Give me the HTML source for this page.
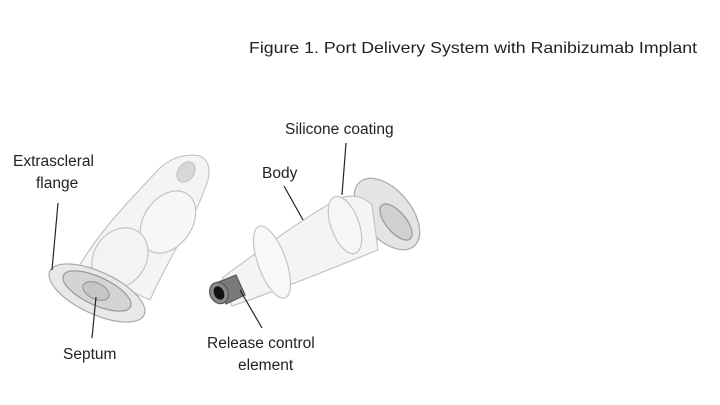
<!DOCTYPE html>
<html><head><style>
html,body{margin:0;padding:0;background:#fff;}
svg{display:block;font-family:"Liberation Sans",Arial,sans-serif;}
</style></head><body>
<svg width="720" height="405" viewBox="0 0 720 405" xmlns="http://www.w3.org/2000/svg">
<rect width="720" height="405" fill="#fff"/>
<text x="249" y="53" font-size="16" fill="#222" textLength="448" lengthAdjust="spacingAndGlyphs">Figure 1. Port Delivery System with Ranibizumab Implant</text>

<!-- Left device -->
<g stroke="#c4c4c4" stroke-width="1.2">
  <path d="M78,268 C100,230 130,200 160,168 Q178,152 200,156 Q212,162 208,180 C195,220 170,255 150,300 Z" fill="#f4f4f4"/>
  <ellipse cx="186" cy="172" rx="11" ry="8" transform="rotate(-55 186 172)" fill="#d8d8d8"/>
  <ellipse cx="168" cy="222" rx="24" ry="34" transform="rotate(35 168 222)" fill="#f7f7f7"/>
  <ellipse cx="120" cy="258" rx="26" ry="32" transform="rotate(35 120 258)" fill="#f3f3f3"/>
  <ellipse cx="97" cy="293" rx="52" ry="21" transform="rotate(25 97 293)" fill="#e8e8e8" stroke="#aaa"/>
  <ellipse cx="97" cy="291" rx="37" ry="14" transform="rotate(25 97 291)" fill="#d4d4d4" stroke="#999"/>
  <ellipse cx="96" cy="291" rx="14" ry="8" transform="rotate(25 96 291)" fill="#c6c6c6" stroke="#999"/>
</g>

<!-- Right device -->
<g stroke="#c4c4c4" stroke-width="1.2">
  <path d="M386,218 m0,0" />
  <ellipse cx="387" cy="214" rx="24" ry="42" transform="rotate(-40 387 214)" fill="#e4e4e4" stroke="#aaa"/>
  <path d="M222,278 C260,250 300,220 340,198 Q360,192 372,205 L378,250 C340,265 280,290 232,306 Z" fill="#f4f4f4"/>
  <ellipse cx="272" cy="262" rx="14" ry="38" transform="rotate(-20 272 262)" fill="#f8f8f8"/>
  <ellipse cx="345" cy="225" rx="14" ry="30" transform="rotate(-20 345 225)" fill="#f6f6f6"/>
  <ellipse cx="396" cy="222" rx="10" ry="22" transform="rotate(-40 396 222)" fill="#d0d0d0" stroke="#999"/>
  <path d="M216,283 L236,275 L245,295 L226,304 Z" fill="#7a7a7a" stroke="#555"/>
  <ellipse cx="219" cy="293" rx="9" ry="11" transform="rotate(-25 219 293)" fill="#888" stroke="#555"/>
  <ellipse cx="219" cy="293" rx="5" ry="7" transform="rotate(-25 219 293)" fill="#111" stroke="none"/>
</g>

<!-- Leader lines -->
<g stroke="#222" stroke-width="1.2">
  <line x1="58" y1="203" x2="52" y2="270"/>
  <line x1="96" y1="297" x2="92" y2="338"/>
  <line x1="284" y1="186" x2="303" y2="220"/>
  <line x1="346" y1="143" x2="342" y2="195"/>
  <line x1="240" y1="290" x2="262" y2="328"/>
</g>

<!-- Labels -->
<g font-size="15.5" fill="#222">
  <text x="13" y="166">Extrascleral</text>
  <text x="36" y="188">flange</text>
  <text x="63" y="359">Septum</text>
  <text x="262" y="178">Body</text>
  <text x="285" y="134">Silicone coating</text>
  <text x="207" y="348">Release control</text>
  <text x="238" y="370">element</text>
</g>
</svg>
</body></html>
